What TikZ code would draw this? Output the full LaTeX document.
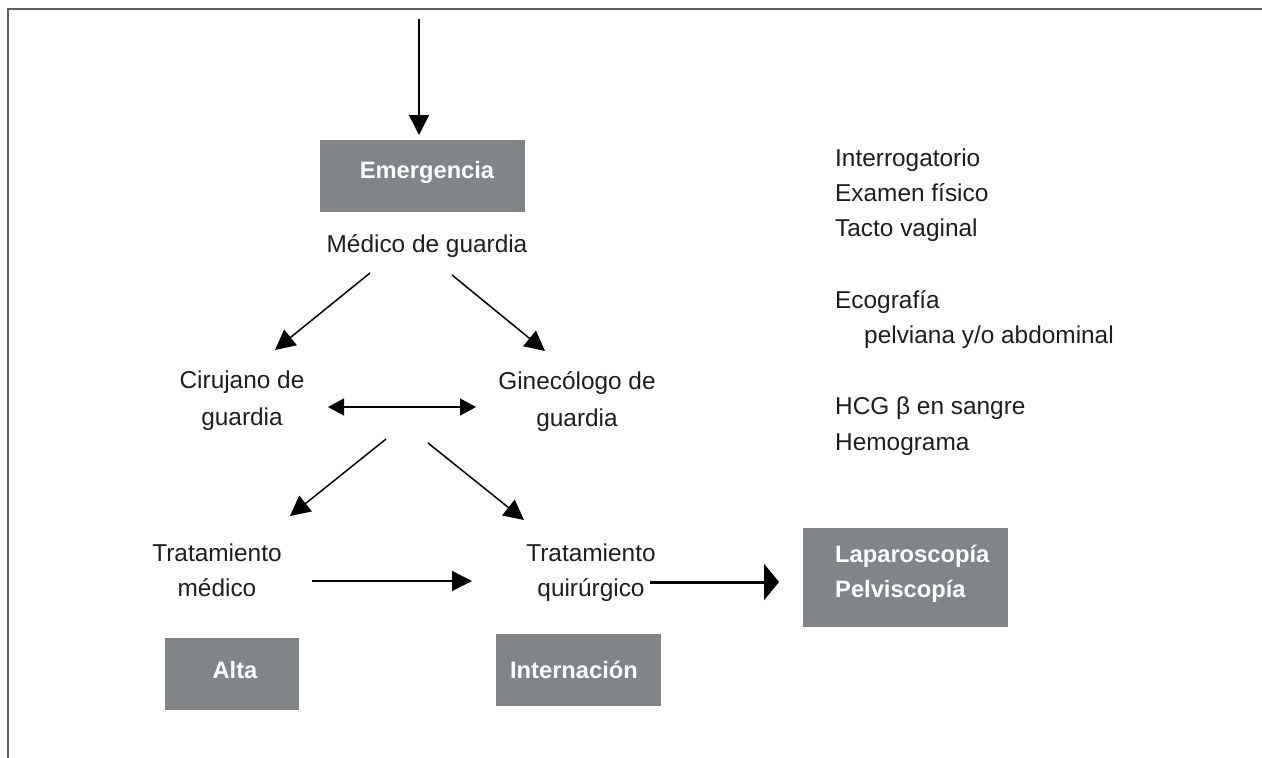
\documentclass[tikz,border=0pt]{standalone}
\usepackage{fontspec}
\setmainfont{Liberation Sans}
\usetikzlibrary{arrows.meta}
\definecolor{boxgray}{HTML}{7F8589}
\definecolor{framegray}{HTML}{5E5E5E}
\definecolor{ink}{HTML}{1E1E1E}
\tikzset{
  lbl/.style={anchor=base, inner sep=0pt, text=ink, font=\fontsize{24.4}{36}\selectfont, align=center},
  lbllist/.style={anchor=base west, inner sep=0pt, text=ink, align=left},
  graybox/.style={fill=boxgray, draw=none, inner sep=0pt},
  boxtxt/.style={inner sep=0pt, text=white, font=\fontsize{23.7}{35}\selectfont\bfseries},
  conn/.style={draw=black, line width=1.5pt, -{Triangle[length=20pt, width=20pt]}},
  dconn/.style={draw=black, line width=1.5pt, {Triangle[length=16pt, width=17pt]}-{Triangle[length=16pt, width=17pt]}},
  thickconn/.style={draw=black, line width=3pt, -{Triangle[length=15pt, width=36pt]}},
  framel/.style={draw=framegray, line width=1.6pt}
}
\begin{document}
\begin{tikzpicture}[x=1pt, y=-1pt]
\useasboundingbox (0,0) rectangle (1262,758);
% frame
\coordinate (fTR) at (1262,9);
\coordinate (fTL) at (8,9);
\coordinate (fBL) at (8,758);
\draw[framel] (fTR) -- (fTL) -- (fBL);

% boxes
\node[graybox, minimum width=205pt, minimum height=72pt] (emergbox) at (422.5,176) {};
\node[boxtxt, anchor=base] (emerg) at (427,178) {Emergencia};
\node[graybox, minimum width=134pt, minimum height=72pt] (altabox) at (232,674) {};
\node[boxtxt, anchor=base] (alta) at (235,678) {Alta};
\node[graybox, minimum width=165pt, minimum height=72pt] (internbox) at (578.5,670) {};
\node[boxtxt, anchor=base] (intern) at (574,678) {Internación};
\node[graybox, minimum width=205pt, minimum height=99pt] (lapbox) at (905.5,577.5) {};
\node[boxtxt, anchor=base west, align=left] (lap) at (835,597) {Laparoscopía\\Pelviscopía};

% labels (base anchor = baseline of last line)
\node[lbl] (medico) at (427,252) {Médico de guardia};
\node[lbl, font=\fontsize{24.4}{37}\selectfont] (ciruj) at (242,425) {Cirujano de\\guardia};
\node[lbl, font=\fontsize{24.4}{37}\selectfont] (ginec) at (577,426) {Ginecólogo de\\guardia};
\node[lbl, font=\fontsize{24.4}{35}\selectfont] (tmed) at (217,596) {Tratamiento\\médico};
\node[lbl, font=\fontsize{24.4}{35}\selectfont] (tquir) at (591,596) {Tratamiento\\quirúrgico};

% right list
\node[lbllist, font=\fontsize{24.4}{35}\selectfont] (list1) at (835,236) {Interrogatorio\\Examen físico\\Tacto vaginal};
\node[lbllist, font=\fontsize{24.4}{35}\selectfont] (list2) at (835,343) {Ecografía\\\hspace*{29pt}pelviana y/o abdominal};
\node[lbllist, font=\fontsize{24.4}{36}\selectfont] (list3) at (835,450) {HCG β en sangre\\Hemograma};

% connector end points
\coordinate (topS) at (419,19);
\coordinate (topE) at (419,135);
\coordinate (d1S) at (370,273);
\coordinate (d1E) at (275,350);
\coordinate (d2S) at (452,275);
\coordinate (d2E) at (545,351);
\coordinate (dbA) at (328,407);
\coordinate (dbB) at (476,407);
\coordinate (d3S) at (386,439);
\coordinate (d3E) at (290,516);
\coordinate (d4S) at (428,443);
\coordinate (d4E) at (524,520);
\coordinate (h1S) at (312,581);
\coordinate (h1E) at (472,581);
\coordinate (thS) at (650,582);
\coordinate (thE) at (779,582);

% connectors
\draw[conn] (topS) -- (topE);
\draw[conn] (d1S) -- (d1E);
\draw[conn] (d2S) -- (d2E);
\draw[dconn] (dbA) -- (dbB);
\draw[conn] (d3S) -- (d3E);
\draw[conn] (d4S) -- (d4E);
\draw[conn] (h1S) -- (h1E);
\draw[thickconn] (thS) -- (thE);
\end{tikzpicture}
\end{document}
